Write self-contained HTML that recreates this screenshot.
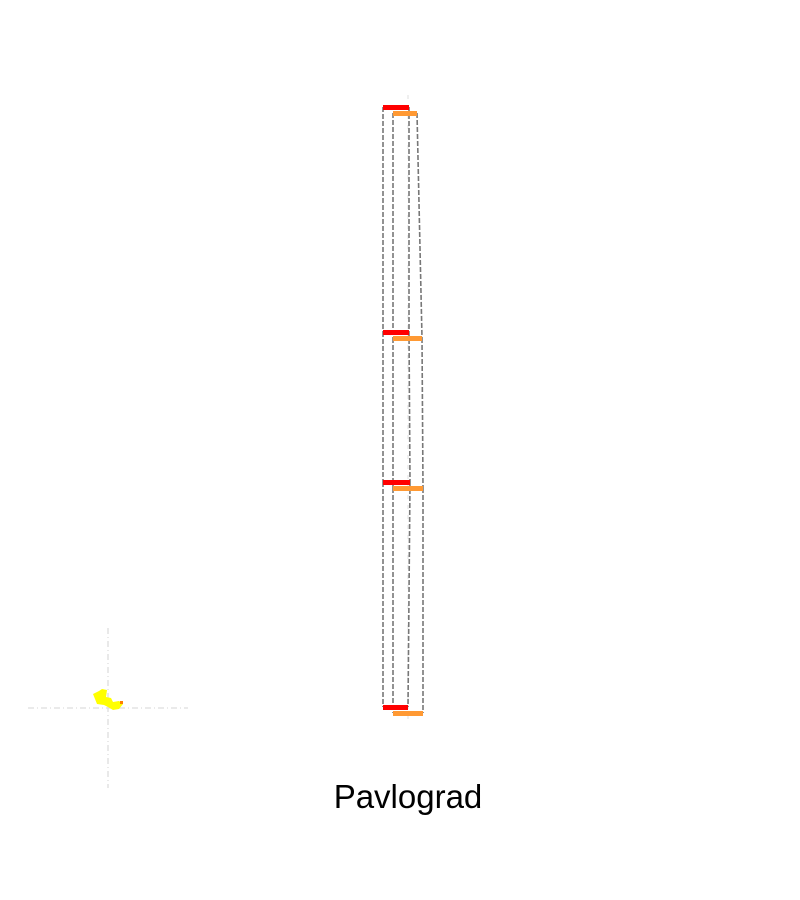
<!DOCTYPE html>
<html><head><meta charset="utf-8"><style>
html,body{margin:0;padding:0;background:#fff;width:800px;height:900px;overflow:hidden}
</style></head><body>
<svg id="chart" width="800" height="900" xmlns="http://www.w3.org/2000/svg">
<g id="inset">
<line x1="28" y1="708" x2="188" y2="708" stroke="#ddd" stroke-width="1.3" stroke-dasharray="6,3,1,3"/>
<line x1="108" y1="628" x2="108" y2="788" stroke="#ddd" stroke-width="1.3" stroke-dasharray="6,3,1,3"/>
<path d="M93,694 L99,691 L102,689 L107,690 L106,697 L111,698 L113,702 L119,701 L123,704 L119,709 L113,710 L108,707 L104,705 L97,704 L95,699 Z" fill="#ffff00"/>
<rect x="120" y="701" width="3" height="3" fill="#ff7f00"/>
</g>
<line x1="408" y1="95" x2="408" y2="722" stroke="#e6e6e6" stroke-width="1.3" stroke-dasharray="4,6"/>
<g id="marks"></g>
<text x="408" y="808" text-anchor="middle" font-family="Liberation Sans, sans-serif" font-size="33" fill="#000">Pavlograd</text>
</svg>
<script>
const levels = [0, 1, 2, 3];
const redStart = [0, 0, 0, 0];
const redEnd = [26, 26, 27, 25];
const orangeStart = [10, 10, 10, 10];
const orangeEnd = [34, 39, 40, 40];
const levelValues = [0, 225, 375, 600];

const x0 = 383, y0 = 107;
const xs = v => x0 + v;
const ys = v => y0 + v;
const g = document.getElementById('marks');
const NS = 'http://www.w3.org/2000/svg';
function line(x1,y1,x2,y2,name){
  const l=document.createElementNS(NS,'path');
  l.setAttribute('d',`M${x1},${y1} L${x2},${y2}`);
  l.setAttribute('stroke','#777');l.setAttribute('stroke-width','1.6');
  l.setAttribute('stroke-dasharray','5,2');l.setAttribute('fill','none');
  
  
  g.appendChild(l);
}
for(let i=0;i<levels.length-1;i++){
  const ya=ys(levelValues[i]), yb=ys(levelValues[i+1]);
  line(xs(redStart[i]),ya,xs(redStart[i+1]),yb,'red-left-connector');
  line(xs(redEnd[i]),ya,xs(redEnd[i+1]),yb,'red-right-connector');
  line(xs(orangeStart[i]),ya+6,xs(orangeStart[i+1]),yb+6,'orange-left-connector');
  line(xs(orangeEnd[i]),ya+6,xs(orangeEnd[i+1]),yb+6,'orange-right-connector');
}
for(let i=0;i<levels.length;i++){
  const y=ys(levelValues[i]);
  const r=document.createElementNS(NS,'rect');
  r.setAttribute('x',xs(redStart[i]));r.setAttribute('y',y-2);
  r.setAttribute('width',redEnd[i]-redStart[i]);r.setAttribute('height',5);
  r.setAttribute('fill','#ff0000');
  
  
  g.appendChild(r);
  const o=document.createElementNS(NS,'rect');
  o.setAttribute('x',xs(orangeStart[i]));o.setAttribute('y',y+4);
  o.setAttribute('width',orangeEnd[i]-orangeStart[i]);o.setAttribute('height',5);
  o.setAttribute('fill','#ff9933');
  
  
  g.appendChild(o);
}
</script>
</body></html>
